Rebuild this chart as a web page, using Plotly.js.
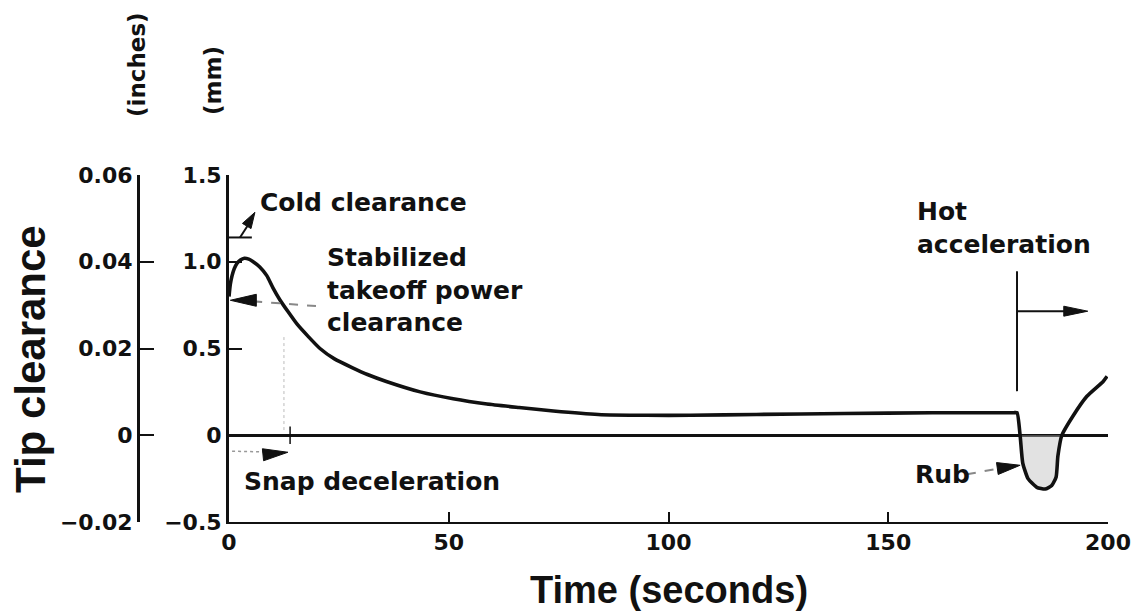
<!DOCTYPE html>
<html>
<head>
<meta charset="utf-8">
<script src="https://cdn.plot.ly/plotly-3.0.1.min.js"></script>
<style>html,body{margin:0;padding:0;background:#fff;}#chart{width:1138px;height:614px;}</style>
</head>
<body>
<div id="chart"></div>
<script>
// Time (s) and tip clearance (mm)
var timeSec = [0, 0.3, 0.7, 1.2, 1.8, 2.6, 3.5, 4.5, 5.5, 7, 8.6, 10, 11.6, 13.5, 15.5, 18, 20.7, 24, 28, 31.5, 35.8, 43.5, 51, 58.7, 66, 73.8, 84, 95, 105, 120, 140, 160, 170, 178.5, 179.3, 180, 180.6, 181.8, 183.8, 185.7, 187.2, 188.2, 188.6, 189.5, 192, 195.2, 198.9, 199.8];
var clearanceMm = [0.80, 0.87, 0.92, 0.96, 0.99, 1.01, 1.02, 1.015, 1.00, 0.97, 0.92, 0.85, 0.78, 0.71, 0.64, 0.57, 0.50, 0.44, 0.39, 0.35, 0.31, 0.25, 0.21, 0.18, 0.16, 0.14, 0.12, 0.115, 0.115, 0.12, 0.125, 0.13, 0.13, 0.13, 0.13, 0.0, -0.16, -0.25, -0.30, -0.31, -0.29, -0.24, -0.12, 0.0, 0.11, 0.225, 0.31, 0.34];

// Axis ticks
var xTicks = [0, 50, 100, 150, 200];
var mmTicks = [-0.5, 0, 0.5, 1.0, 1.5];
var mmTickText = ['\u22120.5', '0', '0.5', '1.0', '1.5'];
var inTicks = [-0.02, 0, 0.02, 0.04, 0.06];
var inTickText = ['\u22120.02', '0', '0.02', '0.04', '0.06'];

// Reference levels (mm) and event times (s)
var coldClearanceMm = 1.14;
var hotAccelStart = 179.3;
var rubStart = 180, rubEnd = 189.5;

// build rub region from main data
var rubT = [], rubY = [];
for (var i = 0; i < timeSec.length; i++) {
  if (timeSec[i] >= rubStart && timeSec[i] <= rubEnd) { rubT.push(timeSec[i]); rubY.push(clearanceMm[i]); }
}

var ink = '#111';
var annFont = {family: 'DejaVu Sans', size: 25, color: ink, weight: 'bold'};
var tickFont = {family: 'DejaVu Sans', size: 22, color: ink, weight: 'bold'};

var traces = [
  {x: rubT, y: rubY, type: 'scatter', mode: 'none', fill: 'tozeroy', fillcolor: 'rgba(190,190,190,0.45)', line: {shape: 'spline', smoothing: 0.5}, hoverinfo: 'skip', showlegend: false},
  {x: timeSec, y: clearanceMm, type: 'scatter', mode: 'lines', line: {color: ink, width: 3.6, shape: 'spline', smoothing: 0.5}, hoverinfo: 'skip', showlegend: false},
  {x: [0], y: [0], yaxis: 'y2', type: 'scatter', mode: 'markers', marker: {opacity: 0}, hoverinfo: 'skip', showlegend: false}
];

var L = 100, R = 30, T = 175, B = 92, W = 1138, H = 614;
var pw = W - L - R, ph = H - T - B;
function px(xp) { return (xp - L) / pw; }
function py(yp) { return (H - B - yp) / ph; }

// slender filled arrowhead, tip at data point (t, mm), pointing along (dx, dy) in screen pixels (y up)
function head(t, mm, dx, dy, len, half) {
  var n = Math.sqrt(dx * dx + dy * dy), ux = dx / n, uy = dy / n;
  var bx = -len * ux, by = -len * uy, qx = -uy * half, qy = ux * half;
  var p = 'M0,0 L' + (bx + qx).toFixed(1) + ',' + (by + qy).toFixed(1) + ' L' + (bx - qx).toFixed(1) + ',' + (by - qy).toFixed(1) + ' Z';
  return {type: 'path', xref: 'x', yref: 'y', xsizemode: 'pixel', ysizemode: 'pixel', xanchor: t, yanchor: mm,
          path: p, fillcolor: ink, line: {color: ink, width: 1}};
}
function seg(x0, y0, x1, y1, color, width, dash) {
  return {type: 'line', xref: 'x', yref: 'y', x0: x0, x1: x1, y0: y0, y1: y1, line: {color: color, width: width, dash: dash || 'solid'}};
}
function txt(x, y, s) {
  return {x: x, y: y, xref: 'x', yref: 'y', text: s, showarrow: false, xanchor: 'left', yanchor: 'middle', align: 'left', font: annFont};
}

var annotations = [
  txt(6.6, 1.343, 'Cold clearance'),
  txt(21.8, 0.839, 'Stabilized<br>takeoff power<br>clearance'),
  txt(3.0, -0.265, 'Snap deceleration'),
  txt(156.1, 1.193, 'Hot<br>acceleration'),
  txt(155.6, -0.225, 'Rub'),
  {x: px(30), y: py(359), xref: 'paper', yref: 'paper', text: 'Tip clearance', showarrow: false, textangle: -90,
   xanchor: 'center', yanchor: 'middle', font: {family: 'Liberation Sans', size: 42, color: ink, weight: 'bold'}},
  {x: px(137), y: py(65), xref: 'paper', yref: 'paper', text: '(inches)', showarrow: false, textangle: -90,
   xanchor: 'center', yanchor: 'middle', font: {family: 'DejaVu Sans', size: 23, color: ink, weight: 'bold'}},
  {x: px(213), y: py(81), xref: 'paper', yref: 'paper', text: '(mm)', showarrow: false, textangle: -90,
   xanchor: 'center', yanchor: 'middle', font: {family: 'DejaVu Sans', size: 23, color: ink, weight: 'bold'}},
  {x: px(669), y: py(590), xref: 'paper', yref: 'paper', text: 'Time (seconds)', showarrow: false,
   xanchor: 'center', yanchor: 'middle', font: {family: 'Liberation Sans', size: 38, color: ink, weight: 'bold'}}
];

var shapes = [
  // cold clearance mark and leader
  seg(0, coldClearanceMm, 5.2, coldClearanceMm, ink, 2),
  seg(2.5, coldClearanceMm, 5.2, 1.245, ink, 2),
  head(5.9, 1.285, 15, 25, 16, 5),
  // stabilized takeoff power clearance leader
  seg(5.5, 0.772, 20.5, 0.743, '#888', 2, 'dash'),
  head(0.3, 0.778, -1, 0, 26, 6),
  // snap deceleration
  seg(0.7, -0.092, 8, -0.096, '#999', 1.5, 'dot'),
  head(13.4, -0.098, 1, 0.1, 25, 6),
  seg(13.9, -0.05, 13.9, 0.05, ink, 1.5),
  seg(12.5, 0.03, 12.5, 0.57, '#bbb', 1, 'dot'),
  // rub
  seg(167.9, -0.225, 175, -0.192, '#888', 2, 'dash'),
  head(180, -0.173, 33, 4.7, 23, 6),
  // hot acceleration
  seg(hotAccelStart, 0.254, hotAccelStart, 0.945, ink, 2),
  seg(hotAccelStart, 0.715, 192, 0.715, ink, 2),
  head(195.4, 0.715, 1, 0, 24, 5)
];

var layout = {
  width: W, height: H,
  margin: {l: L, r: R, t: T, b: B, pad: 0},
  paper_bgcolor: '#fff', plot_bgcolor: '#fff',
  showlegend: false,
  xaxis: {domain: [px(229), 1], range: [0, 200], tickvals: xTicks, ticktext: xTicks.map(String),
          ticks: 'inside', ticklen: 10, tickwidth: 2, tickcolor: ink, showline: true, linewidth: 2, linecolor: ink,
          showgrid: false, zeroline: false, tickfont: tickFont, fixedrange: true},
  yaxis: {range: [-0.5, 1.5], tickvals: mmTicks, ticktext: mmTickText, ticks: 'inside', ticklen: 13, tickwidth: 2,
          tickcolor: ink, showline: true, linewidth: 3, linecolor: ink, showgrid: false,
          zeroline: true, zerolinecolor: ink, zerolinewidth: 2.5, tickfont: tickFont, fixedrange: true},
  yaxis2: {overlaying: 'y', anchor: 'free', position: px(138), side: 'left', range: [-0.02, 0.06],
           tickvals: inTicks, ticktext: inTickText, ticks: 'inside', ticklen: 14, tickwidth: 2, tickcolor: ink,
           showline: true, linewidth: 2.5, linecolor: ink, showgrid: false, zeroline: false, tickfont: tickFont, fixedrange: true},
  annotations: annotations,
  shapes: shapes
};

Plotly.newPlot('chart', traces, layout, {displayModeBar: false, staticPlot: true});
</script>
</body>
</html>
